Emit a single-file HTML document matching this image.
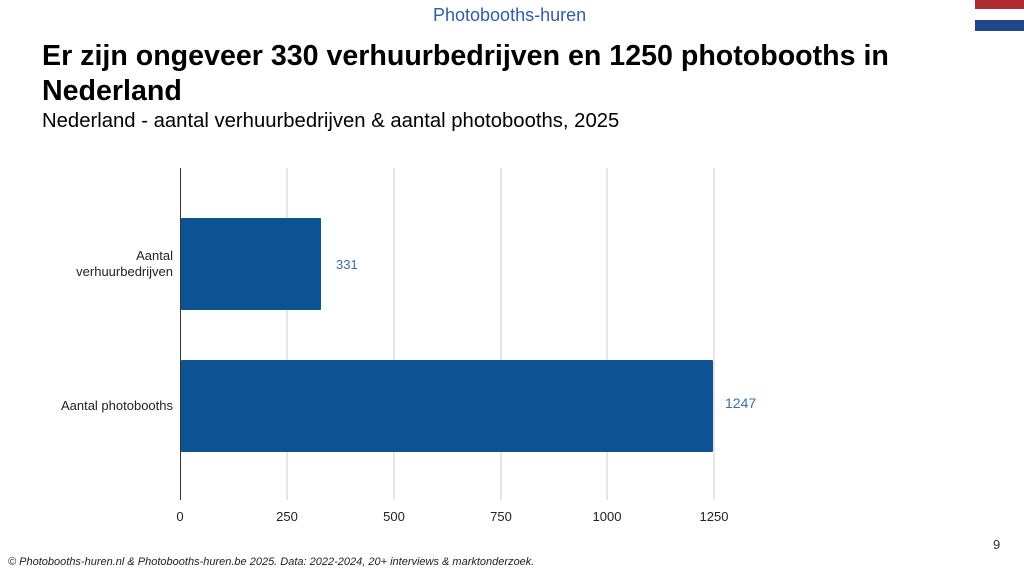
<!DOCTYPE html>
<html><head><meta charset="utf-8"><style>
body{margin:0;width:1024px;height:575px;background:#fff;font-family:"Liberation Sans",sans-serif;position:relative;overflow:hidden}
.a{position:absolute}
</style></head><body>
<div class="a" style="left:433px;top:5px;font-size:18px;color:#2f5ea8;">Photobooths-huren</div>
<div class="a" style="left:975px;top:0;width:49px;height:9px;background:#ae2b2f"></div>
<div class="a" style="left:975px;top:20px;width:49px;height:11px;background:#21468b"></div>
<div class="a" style="left:42px;top:39px;font-size:28.6px;font-weight:bold;line-height:35px;color:#000;width:960px">Er zijn ongeveer 330 verhuurbedrijven en 1250 photobooths in<br>Nederland</div>
<div class="a" style="left:42px;top:110px;font-size:20.3px;color:#000">Nederland - aantal verhuurbedrijven &amp; aantal photobooths, 2025</div>
<svg class="a" style="left:0;top:0" width="1024" height="575">
<g stroke="#ccc" stroke-width="1">
<line x1="287" y1="168" x2="287" y2="500"/><line x1="394" y1="168" x2="394" y2="500"/>
<line x1="501" y1="168" x2="501" y2="500"/><line x1="607" y1="168" x2="607" y2="500"/>
<line x1="714" y1="168" x2="714" y2="500"/>
</g>
<line x1="180.5" y1="168" x2="180.5" y2="500" stroke="#333" stroke-width="1"/>
<rect x="181" y="218" width="140" height="92" fill="#0d5394" rx="1"/>
<rect x="181" y="360" width="532" height="92" fill="#0d5394" rx="1"/>
<g font-family="Liberation Sans" font-size="13" fill="#222" text-anchor="middle">
<text x="180" y="521">0</text><text x="287" y="521">250</text><text x="394" y="521">500</text>
<text x="501" y="521">750</text><text x="607" y="521">1000</text><text x="714" y="521">1250</text>
</g>
<g font-family="Liberation Sans" font-size="13" fill="#222" text-anchor="end">
<text x="173" y="260">Aantal</text><text x="173" y="276">verhuurbedrijven</text>
<text x="173" y="410">Aantal photobooths</text>
</g>
<text x="336" y="269" font-family="Liberation Sans" font-size="13" fill="#3a6ea8">331</text>
<text x="725" y="408" font-family="Liberation Sans" font-size="14" fill="#3a6ea8">1247</text>
<text x="993" y="549" font-family="Liberation Sans" font-size="13" fill="#333">9</text>
<text x="8" y="565" font-family="Liberation Sans" font-size="11" font-style="italic" fill="#222">© Photobooths-huren.nl &amp; Photobooths-huren.be 2025. Data: 2022-2024, 20+ interviews &amp; marktonderzoek.</text>
</svg>
</body></html>
